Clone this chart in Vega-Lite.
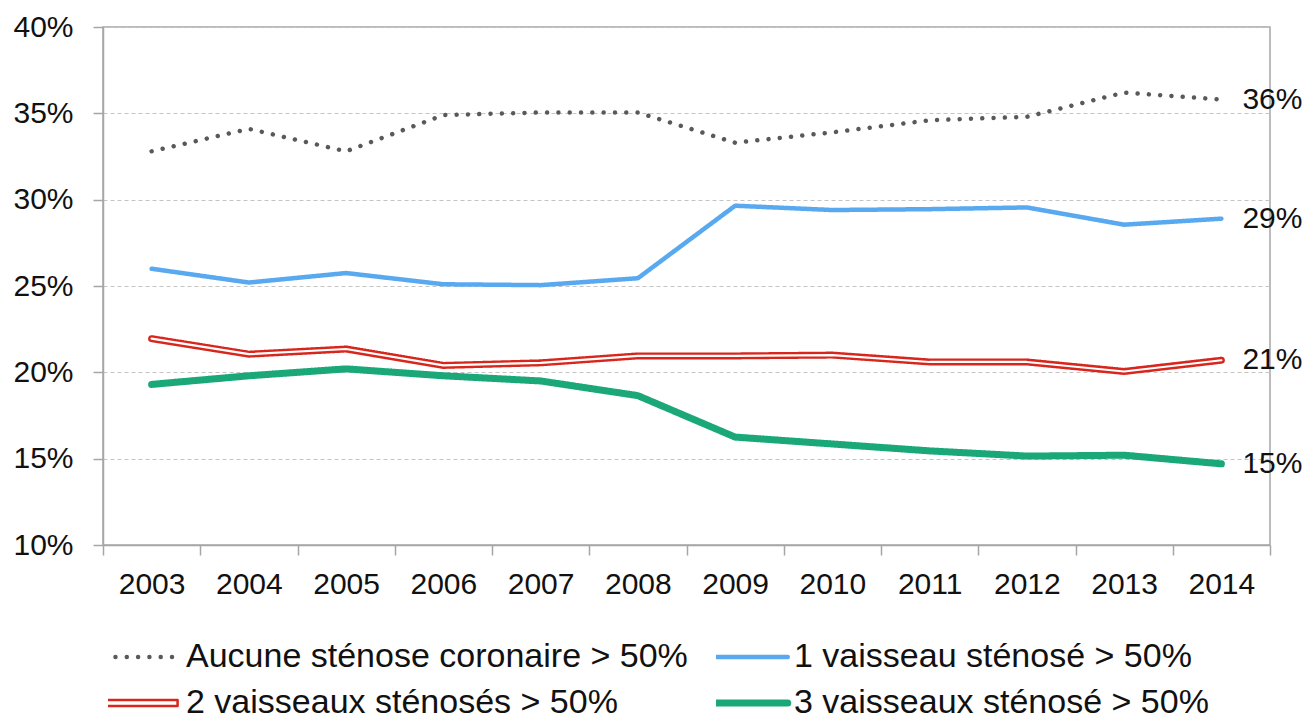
{
  "$schema": "https://vega.github.io/schema/vega-lite/v6.json",
  "width": 1167,
  "height": 518,
  "autosize": {"type": "none"},
  "padding": {"left": 103, "top": 27, "right": 33, "bottom": 175},
  "background": "white",
  "config": {
    "view": {"stroke": "#a6a6a6", "strokeWidth": 1.5},
    "font": "Liberation Sans",
    "axis": {
      "labelFont": "Liberation Sans",
      "labelFontSize": 30,
      "labelColor": "#111111",
      "domainColor": "#a6a6a6",
      "domainWidth": 1.5,
      "tickColor": "#a6a6a6",
      "tickWidth": 1.5,
      "tickSize": 10,
      "title": null
    },
    "legend": {
      "labelFont": "Liberation Sans",
      "labelFontSize": 34,
      "labelColor": "#111111",
      "labelLimit": 800,
      "padding": 0
    }
  },
  "data": {
    "values": [
      {"year": "2003", "series": "Aucune sténose coronaire > 50%", "v": 0.328},
      {"year": "2004", "series": "Aucune sténose coronaire > 50%", "v": 0.341},
      {"year": "2005", "series": "Aucune sténose coronaire > 50%", "v": 0.328},
      {"year": "2006", "series": "Aucune sténose coronaire > 50%", "v": 0.349},
      {"year": "2007", "series": "Aucune sténose coronaire > 50%", "v": 0.3505},
      {"year": "2008", "series": "Aucune sténose coronaire > 50%", "v": 0.3505},
      {"year": "2009", "series": "Aucune sténose coronaire > 50%", "v": 0.333},
      {"year": "2010", "series": "Aucune sténose coronaire > 50%", "v": 0.339},
      {"year": "2011", "series": "Aucune sténose coronaire > 50%", "v": 0.346},
      {"year": "2012", "series": "Aucune sténose coronaire > 50%", "v": 0.348},
      {"year": "2013", "series": "Aucune sténose coronaire > 50%", "v": 0.362},
      {"year": "2014", "series": "Aucune sténose coronaire > 50%", "v": 0.358},
      {"year": "2003", "series": "1 vaisseau sténosé > 50%", "v": 0.26},
      {"year": "2004", "series": "1 vaisseau sténosé > 50%", "v": 0.252},
      {"year": "2005", "series": "1 vaisseau sténosé > 50%", "v": 0.2575},
      {"year": "2006", "series": "1 vaisseau sténosé > 50%", "v": 0.251},
      {"year": "2007", "series": "1 vaisseau sténosé > 50%", "v": 0.2505},
      {"year": "2008", "series": "1 vaisseau sténosé > 50%", "v": 0.2545},
      {"year": "2009", "series": "1 vaisseau sténosé > 50%", "v": 0.2965},
      {"year": "2010", "series": "1 vaisseau sténosé > 50%", "v": 0.294},
      {"year": "2011", "series": "1 vaisseau sténosé > 50%", "v": 0.2945},
      {"year": "2012", "series": "1 vaisseau sténosé > 50%", "v": 0.2955},
      {"year": "2013", "series": "1 vaisseau sténosé > 50%", "v": 0.2855},
      {"year": "2014", "series": "1 vaisseau sténosé > 50%", "v": 0.289},
      {"year": "2003", "series": "2 vaisseaux sténosés > 50%", "v": 0.2195},
      {"year": "2004", "series": "2 vaisseaux sténosés > 50%", "v": 0.2105},
      {"year": "2005", "series": "2 vaisseaux sténosés > 50%", "v": 0.2135},
      {"year": "2006", "series": "2 vaisseaux sténosés > 50%", "v": 0.204},
      {"year": "2007", "series": "2 vaisseaux sténosés > 50%", "v": 0.2055},
      {"year": "2008", "series": "2 vaisseaux sténosés > 50%", "v": 0.2095},
      {"year": "2009", "series": "2 vaisseaux sténosés > 50%", "v": 0.2095},
      {"year": "2010", "series": "2 vaisseaux sténosés > 50%", "v": 0.21},
      {"year": "2011", "series": "2 vaisseaux sténosés > 50%", "v": 0.206},
      {"year": "2012", "series": "2 vaisseaux sténosés > 50%", "v": 0.206},
      {"year": "2013", "series": "2 vaisseaux sténosés > 50%", "v": 0.2005},
      {"year": "2014", "series": "2 vaisseaux sténosés > 50%", "v": 0.207},
      {"year": "2003", "series": "3 vaisseaux sténosé > 50%", "v": 0.193},
      {"year": "2004", "series": "3 vaisseaux sténosé > 50%", "v": 0.198},
      {"year": "2005", "series": "3 vaisseaux sténosé > 50%", "v": 0.202},
      {"year": "2006", "series": "3 vaisseaux sténosé > 50%", "v": 0.198},
      {"year": "2007", "series": "3 vaisseaux sténosé > 50%", "v": 0.195},
      {"year": "2008", "series": "3 vaisseaux sténosé > 50%", "v": 0.1865},
      {"year": "2009", "series": "3 vaisseaux sténosé > 50%", "v": 0.1625},
      {"year": "2010", "series": "3 vaisseaux sténosé > 50%", "v": 0.1585},
      {"year": "2011", "series": "3 vaisseaux sténosé > 50%", "v": 0.1545},
      {"year": "2012", "series": "3 vaisseaux sténosé > 50%", "v": 0.1515},
      {"year": "2013", "series": "3 vaisseaux sténosé > 50%", "v": 0.152},
      {"year": "2014", "series": "3 vaisseaux sténosé > 50%", "v": 0.147}
    ]
  },
  "encoding": {
    "x": {
      "field": "year",
      "type": "ordinal",
      "bandPosition": 0.5,
      "scale": {"type": "band", "paddingInner": 0, "paddingOuter": 0},
      "axis": {"labelAngle": 0, "tickBand": "extent", "labelPadding": 14, "grid": false}
    },
    "y": {
      "field": "v",
      "type": "quantitative",
      "scale": {"domain": [0.1, 0.4], "nice": false, "zero": false},
      "axis": {
        "values": [0.1, 0.15, 0.2, 0.25, 0.3, 0.35, 0.4],
        "format": ".0%",
        "grid": true,
        "gridDash": [4, 3],
        "gridColor": "#c4c4c4",
        "gridWidth": 1.2,
        "labelPadding": 20
      }
    }
  },
  "layer": [
    {
      "mark": {"type": "line", "strokeWidth": 4.5, "strokeCap": "round", "strokeJoin": "round"},
      "encoding": {
        "color": {
          "field": "series",
          "type": "nominal",
          "scale": {
            "domain": ["Aucune sténose coronaire > 50%", "1 vaisseau sténosé > 50%", "2 vaisseaux sténosés > 50%", "3 vaisseaux sténosé > 50%"],
            "range": ["#595959", "#58a9ef", "#d9261c", "#1ba878"]
          },
          "legend": {
            "title": null,
            "orient": "none",
            "direction": "horizontal",
            "legendX": 5,
            "legendY": 608,
            "columns": 2,
            "columnPadding": 28,
            "rowPadding": 2,
            "clipHeight": 44,
            "symbolType": "stroke",
            "symbolSize": 12000,
            "labelOffset": 44,
            "encode": {
              "symbols": {
                "update": {
                  "strokeCap": {"value": "round"},
                  "strokeJoin": {"value": "round"},
                  "strokeWidth": {"signal": "datum.value === '2 vaisseaux sténosés > 50%' ? 2.5 : datum.value === '3 vaisseaux sténosé > 50%' ? 7 : 4.5"},
                  "shape": {"signal": "datum.value === '2 vaisseaux sténosés > 50%' ? 'M-0.96,-0.055L0.96,-0.055L0.96,0.055L-0.96,0.055Z' : 'stroke'"},
                  "fill": {"signal": "datum.value === '2 vaisseaux sténosés > 50%' ? 'white' : 'transparent'"}
                }
              }
            }
          }
        },
        "strokeDash": {
          "field": "series",
          "type": "nominal",
          "scale": {
            "domain": ["Aucune sténose coronaire > 50%", "1 vaisseau sténosé > 50%", "2 vaisseaux sténosés > 50%", "3 vaisseaux sténosé > 50%"],
            "range": [[0.01, 11.3], [1, 0], [1, 0], [1, 0]]
          },
          "legend": {
            "title": null,
            "orient": "none",
            "direction": "horizontal",
            "legendX": 5,
            "legendY": 608,
            "columns": 2,
            "columnPadding": 28,
            "rowPadding": 2,
            "clipHeight": 44,
            "symbolType": "stroke",
            "symbolSize": 12000,
            "labelOffset": 44
          }
        }
      }
    },
    {
      "transform": [{"filter": "datum.series === '2 vaisseaux sténosés > 50%' || datum.series === '3 vaisseaux sténosé > 50%'"}],
      "mark": {"type": "line", "strokeWidth": 7, "strokeCap": "round", "strokeJoin": "round"},
      "encoding": {
        "color": {"field": "series", "type": "nominal"},
        "strokeDash": {"field": "series", "type": "nominal"}
      }
    },
    {
      "transform": [{"filter": "datum.series === '2 vaisseaux sténosés > 50%'"}],
      "mark": {"type": "line", "strokeWidth": 2.2, "color": "white", "strokeCap": "round", "strokeJoin": "round"},
      "encoding": {"detail": {"field": "series"}}
    },
    {
      "transform": [{"filter": "datum.year === '2014'"}],
      "mark": {"type": "text", "align": "left", "baseline": "middle", "dx": 21, "fontSize": 30, "font": "Liberation Sans", "color": "#111111"},
      "encoding": {
        "text": {"field": "v", "type": "quantitative", "format": ".0%"}
      }
    }
  ]
}
